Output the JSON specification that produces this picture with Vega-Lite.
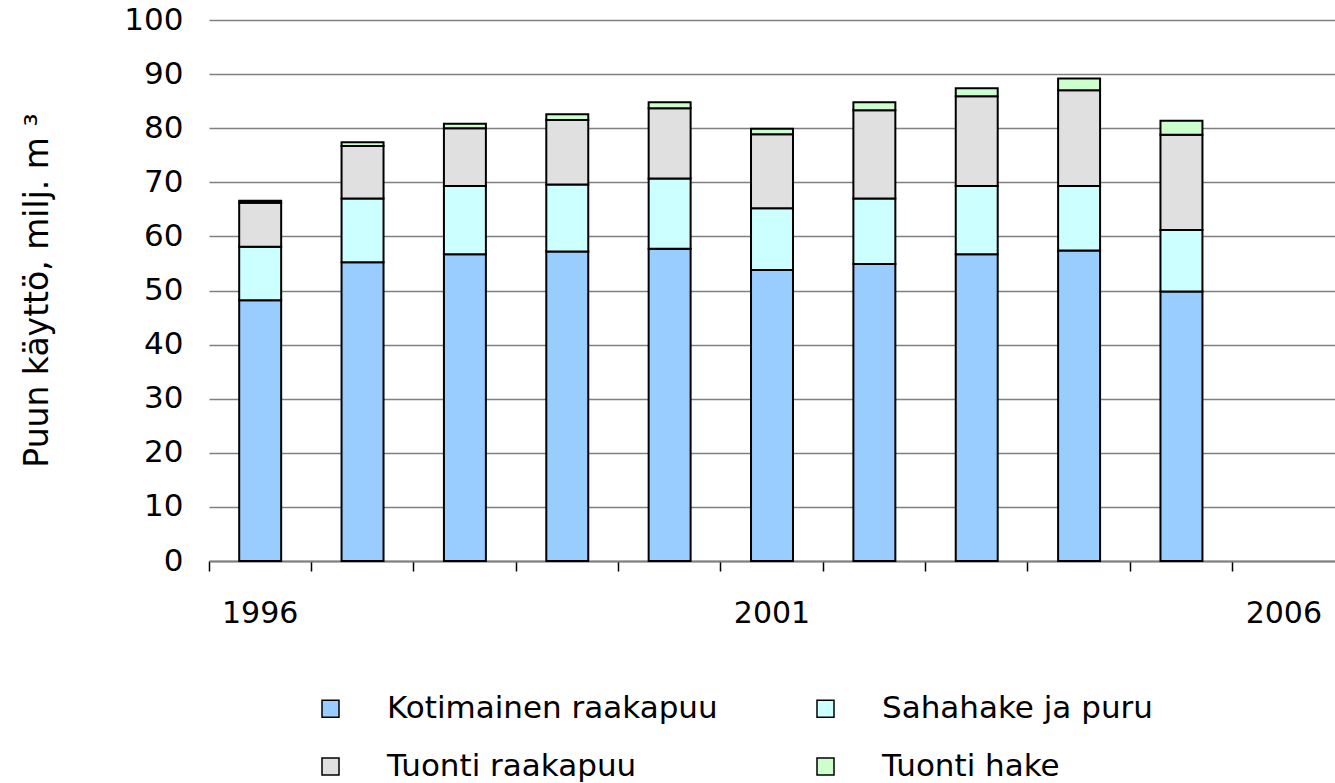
{
  "$schema": "https://vega.github.io/schema/vega-lite/v6.json",
  "width": 1126,
  "height": 541,
  "autosize": {"type": "none"},
  "padding": {"left": 209, "top": 20, "right": 0, "bottom": 222},
  "background": "white",
  "config": {
    "view": {"stroke": null},
    "font": "DejaVu Sans",
    "axis": {"labelColor": "black", "titleColor": "black", "labelFont": "DejaVu Sans", "titleFont": "DejaVu Sans"},
    "legend": {"labelFont": "DejaVu Sans", "labelColor": "black"}
  },
  "data": {
    "values": [
      {"year": "1996", "series": "Kotimainen raakapuu", "ord": 1, "value": 48.2},
      {"year": "1996", "series": "Sahahake ja puru", "ord": 2, "value": 9.9},
      {"year": "1996", "series": "Tuonti raakapuu", "ord": 3, "value": 8.1},
      {"year": "1996", "series": "Tuonti hake", "ord": 4, "value": 0.4},
      {"year": "1997", "series": "Kotimainen raakapuu", "ord": 1, "value": 55.2},
      {"year": "1997", "series": "Sahahake ja puru", "ord": 2, "value": 11.8},
      {"year": "1997", "series": "Tuonti raakapuu", "ord": 3, "value": 9.7},
      {"year": "1997", "series": "Tuonti hake", "ord": 4, "value": 0.7},
      {"year": "1998", "series": "Kotimainen raakapuu", "ord": 1, "value": 56.7},
      {"year": "1998", "series": "Sahahake ja puru", "ord": 2, "value": 12.6},
      {"year": "1998", "series": "Tuonti raakapuu", "ord": 3, "value": 10.7},
      {"year": "1998", "series": "Tuonti hake", "ord": 4, "value": 0.8},
      {"year": "1999", "series": "Kotimainen raakapuu", "ord": 1, "value": 57.2},
      {"year": "1999", "series": "Sahahake ja puru", "ord": 2, "value": 12.4},
      {"year": "1999", "series": "Tuonti raakapuu", "ord": 3, "value": 11.9},
      {"year": "1999", "series": "Tuonti hake", "ord": 4, "value": 1.1},
      {"year": "2000", "series": "Kotimainen raakapuu", "ord": 1, "value": 57.7},
      {"year": "2000", "series": "Sahahake ja puru", "ord": 2, "value": 13.0},
      {"year": "2000", "series": "Tuonti raakapuu", "ord": 3, "value": 13.0},
      {"year": "2000", "series": "Tuonti hake", "ord": 4, "value": 1.1},
      {"year": "2001", "series": "Kotimainen raakapuu", "ord": 1, "value": 53.8},
      {"year": "2001", "series": "Sahahake ja puru", "ord": 2, "value": 11.4},
      {"year": "2001", "series": "Tuonti raakapuu", "ord": 3, "value": 13.7},
      {"year": "2001", "series": "Tuonti hake", "ord": 4, "value": 1.0},
      {"year": "2002", "series": "Kotimainen raakapuu", "ord": 1, "value": 54.9},
      {"year": "2002", "series": "Sahahake ja puru", "ord": 2, "value": 12.1},
      {"year": "2002", "series": "Tuonti raakapuu", "ord": 3, "value": 16.3},
      {"year": "2002", "series": "Tuonti hake", "ord": 4, "value": 1.5},
      {"year": "2003", "series": "Kotimainen raakapuu", "ord": 1, "value": 56.7},
      {"year": "2003", "series": "Sahahake ja puru", "ord": 2, "value": 12.6},
      {"year": "2003", "series": "Tuonti raakapuu", "ord": 3, "value": 16.6},
      {"year": "2003", "series": "Tuonti hake", "ord": 4, "value": 1.5},
      {"year": "2004", "series": "Kotimainen raakapuu", "ord": 1, "value": 57.4},
      {"year": "2004", "series": "Sahahake ja puru", "ord": 2, "value": 11.9},
      {"year": "2004", "series": "Tuonti raakapuu", "ord": 3, "value": 17.7},
      {"year": "2004", "series": "Tuonti hake", "ord": 4, "value": 2.2},
      {"year": "2005", "series": "Kotimainen raakapuu", "ord": 1, "value": 49.8},
      {"year": "2005", "series": "Sahahake ja puru", "ord": 2, "value": 11.4},
      {"year": "2005", "series": "Tuonti raakapuu", "ord": 3, "value": 17.6},
      {"year": "2005", "series": "Tuonti hake", "ord": 4, "value": 2.6}
    ]
  },
  "mark": {"type": "bar", "stroke": "black", "strokeWidth": 2, "width": {"band": 0.41}},
  "encoding": {
    "x": {
      "field": "year",
      "type": "nominal",
      "scale": {
        "domain": ["1996", "1997", "1998", "1999", "2000", "2001", "2002", "2003", "2004", "2005", "2006"],
        "paddingInner": 0,
        "paddingOuter": 0
      },
      "axis": {
        "title": null,
        "bandPosition": 0,
        "labelAngle": 0,
        "labelFontSize": 30,
        "labelPadding": 27,
        "labelOverlap": false,
        "labelExpr": "indexof(['1996','2001','2006'], datum.label) >= 0 ? datum.label : ''",
        "tickSize": 10,
        "tickColor": "black",
        "tickWidth": 1.5,
        "domainColor": "#808080",
        "domainWidth": 2,
        "grid": false
      }
    },
    "y": {
      "field": "value",
      "type": "quantitative",
      "stack": "zero",
      "scale": {"domain": [0, 100], "nice": false},
      "axis": {
        "values": [0, 10, 20, 30, 40, 50, 60, 70, 80, 90, 100],
        "domain": false,
        "ticks": false,
        "grid": true,
        "gridColor": "#808080",
        "gridWidth": 1.5,
        "labelFontSize": 31,
        "labelPadding": 26,
        "title": "Puun käyttö, milj. m ³",
        "titleFontSize": 33,
        "titleFontWeight": "normal",
        "titleAngle": -90,
        "titleX": -162,
        "titleY": 270,
        "titleAlign": "center",
        "titleBaseline": "alphabetic"
      }
    },
    "color": {
      "field": "series",
      "type": "nominal",
      "scale": {
        "domain": ["Kotimainen raakapuu", "Sahahake ja puru", "Tuonti raakapuu", "Tuonti hake"],
        "range": ["#99CCFF", "#CCFFFF", "#E0E0E0", "#CCFFCC"]
      },
      "legend": {
        "title": null,
        "orient": "none",
        "direction": "horizontal",
        "legendX": 106,
        "legendY": 673,
        "columns": 2,
        "padding": 0,
        "symbolType": "square",
        "symbolSize": 289,
        "symbolStrokeColor": "black",
        "symbolStrokeWidth": 1.5,
        "symbolOpacity": 1,
        "labelFontSize": 31,
        "labelOffset": 41,
        "labelLimit": 700,
        "columnPadding": 92,
        "rowPadding": 26
      }
    },
    "order": {"field": "ord", "type": "quantitative"}
  }
}
